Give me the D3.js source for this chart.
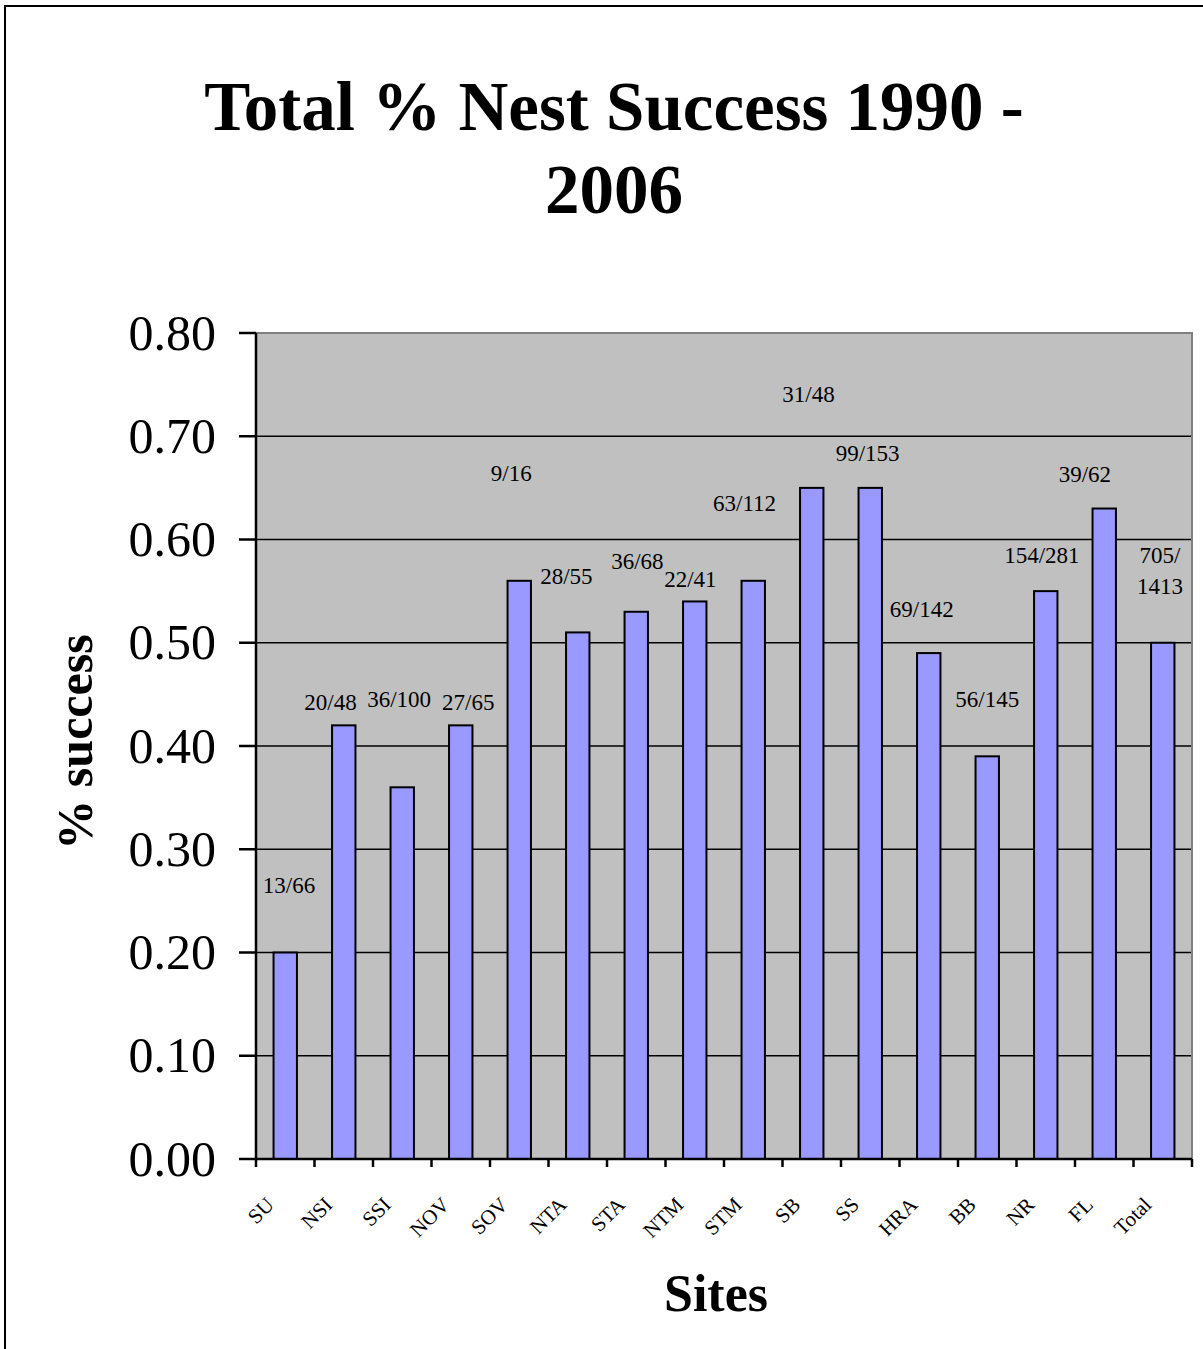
<!DOCTYPE html>
<html>
<head>
<meta charset="utf-8">
<script src="https://cdn.jsdelivr.net/npm/d3@7"></script>
<style>
  body { margin: 0; background: #fff; }
  text { font-family: "Liberation Serif", "Times New Roman", serif; }
</style>
</head>
<body>
<svg id="chart" width="1203" height="1349"></svg>
<script>
// sites, success ratio per site, and the n/N labels
const sites = ['SU', 'NSI', 'SSI', 'NOV', 'SOV', 'NTA', 'STA', 'NTM',
               'STM', 'SB', 'SS', 'HRA', 'BB', 'NR', 'FL', 'Total'];
const success = [0.20, 0.42, 0.36, 0.42, 0.56, 0.51, 0.53, 0.54,
                 0.56, 0.65, 0.65, 0.49, 0.39, 0.55, 0.63, 0.50];
const counts = ['13/66', '20/48', '36/100', '27/65', '9/16', '28/55', '36/68', '22/41',
                '63/112', '31/48', '99/153', '69/142', '56/145', '154/281', '39/62', '705/\n1413'];
// where excel left the labels: height in value units, sideways shift in fractions of a category
const countAt = [0.258, 0.435, 0.438, 0.435, 0.657, 0.557, 0.571, 0.554,
                 0.628, 0.733, 0.676, 0.525, 0.438, 0.577, 0.656, 0.577];
const countShift = [0.065, -0.226, -0.053, 0.128, -0.137, -0.195, 0.02, -0.074,
                    -0.149, -0.055, -0.044, -0.12, 0, -0.067, -0.33, -0.048];
const yTicks = [0, 0.1, 0.2, 0.3, 0.4, 0.5, 0.6, 0.7, 0.8];

const L = 256, R = 1192, T = 333, B = 1159;

function main() {
    const svg = d3.select('#chart');

    // outer frame
    svg.append('rect').attr('x', 5).attr('y', 6).attr('width', 1210).attr('height', 1360)
       .attr('fill', 'none').attr('stroke', '#000').attr('stroke-width', 2);

    const x = d3.scaleBand().domain(sites).range([L, R]).padding(0);
    const y = d3.scaleLinear().domain([0, 0.8]).range([B, T]);

    // plot area
    svg.append('rect').attr('x', L).attr('y', T).attr('width', R - L).attr('height', B - T)
       .attr('fill', '#c0c0c0');

    svg.append('g').selectAll('line').data(yTicks.slice(1, -1)).enter().append('line')
       .attr('x1', L).attr('x2', R).attr('y1', d => y(d)).attr('y2', d => y(d))
       .attr('stroke', '#000').attr('stroke-width', 1.3);

    // top/right border in grey
    svg.append('path').attr('d', `M${L},${T}H${R}V${B}`)
       .attr('fill', 'none').attr('stroke', '#808080').attr('stroke-width', 2);

    // bars: gap width 150% -> bar is 0.4 of the category
    const bw = x.bandwidth() * 0.4;
    svg.append('g').selectAll('rect').data(sites).enter().append('rect')
       .attr('x', d => x(d) + (x.bandwidth() - bw) / 2)
       .attr('width', bw)
       .attr('y', (d, i) => y(success[i]))
       .attr('height', (d, i) => y(0) - y(success[i]))
       .attr('fill', '#9999ff').attr('stroke', '#000').attr('stroke-width', 2);

    // count labels
    const lab = svg.append('g').selectAll('text').data(sites).enter().append('text')
       .attr('text-anchor', 'middle').attr('font-size', 23).attr('fill', '#000')
       .attr('x', (d, i) => x(d) + x.bandwidth() * (0.5 + countShift[i]))
       .attr('y', (d, i) => y(countAt[i]));
    lab.each(function(d, i) {
        const t = d3.select(this);
        const parts = counts[i].split('\n');
        parts.forEach((p, k) => {
            t.append('tspan').attr('x', t.attr('x')).attr('dy', k ? 31 : 0).text(p);
        });
    });

    // y axis
    const yAxis = svg.append('g');
    yAxis.append('line').attr('x1', L).attr('x2', L).attr('y1', T).attr('y2', B)
         .attr('stroke', '#000').attr('stroke-width', 2.5);
    yAxis.selectAll('.tk').data(yTicks).enter().append('line')
         .attr('x1', 239).attr('x2', L).attr('y1', d => y(d)).attr('y2', d => y(d))
         .attr('stroke', '#000').attr('stroke-width', 2.5);
    yAxis.selectAll('text').data(yTicks).enter().append('text')
         .attr('x', 216).attr('y', d => y(d)).attr('dy', '0.33em')
         .attr('text-anchor', 'end').attr('font-size', 50)
         .text(d => d3.format('.2f')(d));

    // x axis
    const xAxis = svg.append('g');
    xAxis.append('line').attr('x1', L).attr('x2', R).attr('y1', B).attr('y2', B)
         .attr('stroke', '#000').attr('stroke-width', 2.5);
    const edges = sites.map(d => x(d)).concat([R]);
    xAxis.selectAll('.tk').data(edges).enter().append('line')
         .attr('x1', d => d).attr('x2', d => d).attr('y1', B).attr('y2', B + 8)
         .attr('stroke', '#000').attr('stroke-width', 2.5);
    xAxis.selectAll('text').data(sites).enter().append('text')
         .attr('text-anchor', 'end').attr('font-size', 21)
         .attr('transform', d => `translate(${x(d) + x.bandwidth() / 2 - 10},${B + 47}) rotate(-45)`)
         .text(d => d);

    // titles
    svg.append('text').attr('x', 614).attr('y', 130).attr('text-anchor', 'middle')
       .attr('font-size', 69).attr('font-weight', 'bold').text('Total % Nest Success 1990 -');
    svg.append('text').attr('x', 614).attr('y', 213).attr('text-anchor', 'middle')
       .attr('font-size', 69).attr('font-weight', 'bold').text('2006');

    svg.append('text').attr('x', 716).attr('y', 1311).attr('text-anchor', 'middle')
       .attr('font-size', 52).attr('font-weight', 'bold').text('Sites');

    svg.append('text').attr('transform', 'translate(92,742) rotate(-90)')
       .attr('text-anchor', 'middle').attr('font-size', 50).attr('font-weight', 'bold')
       .text('% success');
}

main();
</script>
</body>
</html>
